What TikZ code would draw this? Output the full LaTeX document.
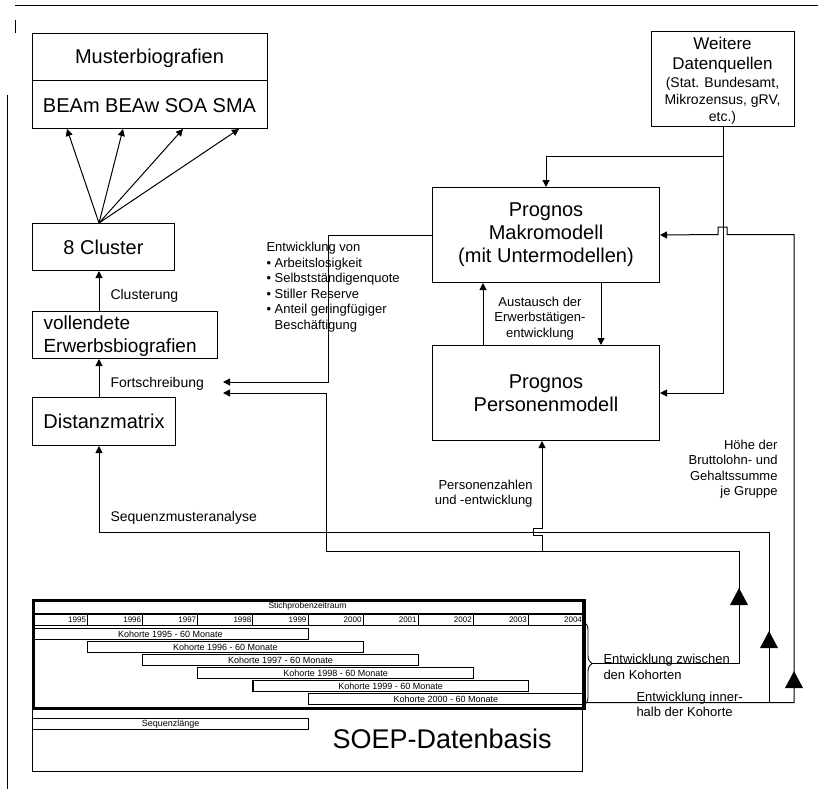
\documentclass[tikz,border=0pt]{standalone}
\usepackage{fontspec}
\setmainfont{Liberation Sans}
\usetikzlibrary{arrows.meta,decorations.pathreplacing,calc}
\newcommand\myfs[2]{\fontsize{#1}{#2}\selectfont}
\newcommand\bigtri[2]{\fill (#1-9,#2) -- (#1+9,#2) -- (#1,#2-17) -- cycle;}
\begin{document}
\begin{tikzpicture}[x=1pt,y=-1pt,line width=1pt,
  >={Triangle[length=7pt,width=7pt]},
  box/.style={draw,anchor=north west,inner sep=0pt},
  big/.style={font=\myfs{20}{23}},
  lbl/.style={font=\myfs{14}{16},inner sep=0pt},
  sm/.style={font=\myfs{13}{15.5},inner sep=0pt},
  ycell/.style={draw,line width=0.8pt,anchor=north west,inner xsep=1.5pt,inner ysep=0pt,text width=52.1pt,align=right,minimum height=11pt,font=\myfs{8}{9}},
  kbar/.style={draw,line width=1.1pt,anchor=north west,inner sep=0pt,minimum height=10.5pt,font=\myfs{9}{10}},
]
\useasboundingbox (0,0) rectangle (818,789);
% page frame
\draw (15,6) -- (818,6);
\draw (15,20) -- (15,33);
\draw (7,95) -- (7,789);

% left column
\node[box,minimum width=235pt,minimum height=95pt] (mb) at (32,33) {};
\draw (mb.west) -- (mb.east);
\node[big] (mbt) at (149.5,58) {Musterbiografien};
\node[big] (mbs) at (149.5,106) {BEAm BEAw SOA SMA};

\node[box,big,minimum width=142pt,minimum height=47pt] (cl) at (32,223) {8 Cluster};
\node[box,minimum width=185pt,minimum height=47pt] (ve) at (32,311) {};
\node[font=\myfs{19}{23},align=left,anchor=west,inner sep=0pt] (vet) at (43,336.5) {vollendete\\Erwerbsbiografien};
\node[box,big,minimum width=143pt,minimum height=48pt] (dm) at (32,397) {Distanzmatrix};

% right column
\node[box,minimum width=143pt,minimum height=95pt] (wd) at (651,31) {};
\node[align=center,inner sep=0pt,font=\myfs{14}{17}] (wdt) at (722.5,81) {{\myfs{17}{20}Weitere}\\[3pt]{\myfs{17}{20}Datenquellen}\\[1pt](Stat. Bundesamt,\\Mikrozensus, gRV,\\etc.)};
\node[box,big,minimum width=227pt,minimum height=95pt,align=center] (mk) at (432,187) {Prognos\\Makromodell\\(mit Untermodellen)};
\node[box,big,minimum width=227pt,minimum height=95pt,align=center] (pm) at (432,345) {Prognos\\Personenmodell};

% labels
\node[lbl,anchor=west] (lclu) at (110,296) {Clusterung};
\node[lbl,anchor=west] (lfort) at (110,384) {Fortschreibung};
\node[lbl,anchor=west] (lseq) at (110,518) {Sequenzmusteranalyse};
\node[sm,align=center] (laus) at (540,318.5) {Austausch der\\Erwerbstätigen-\\entwicklung};
\node[sm,align=left,anchor=west] (lentw) at (266,287) {Entwicklung von\\• Arbeitslosigkeit\\• Selbstständigenquote\\• Stiller Reserve\\• Anteil geringfügiger\\\phantom{• }Beschäftigung};
\node[sm,align=right,anchor=east] (lpers) at (533,493.5) {Personenzahlen\\und -entwicklung};
\node[sm,align=right,anchor=east] (lhoehe) at (778,469) {Höhe der\\Bruttolohn- und\\Gehaltssumme\\je Gruppe};
\node[sm,align=left,anchor=west] (lzw) at (603,667) {Entwicklung zwischen\\den Kohorten};
\node[sm,align=left,anchor=west] (lin) at (636,704.5) {Entwicklung inner-\\halb der Kohorte};

% SOEP block
\node[box,minimum width=550pt,minimum height=172pt] (soep) at (32,599) {};
\node[anchor=west,font=\myfs{27}{30},inner sep=0pt] (soept) at (332,739) {SOEP-Datenbasis};
\node[draw,line width=3pt,anchor=north west,minimum width=551pt,minimum height=108pt,inner sep=0pt] (sp) at (32,599) {};
\draw[line width=2pt] (sp.north west |- 0,614) -- (sp.north east |- 0,614);
\node[font=\myfs{8.5}{10}] (spt) at (307.5,606.5) {Stichprobenzeitraum};
\foreach \i/\yr in {0/1995,1/1996,2/1997,3/1998,4/1999,5/2000,6/2001,7/2002,8/2003,9/2004}{
  \node[ycell] (y\yr) at ({32+55.1*\i},614) {\yr};
}
\foreach \i/\yr in {0/1995,1/1996,2/1997,3/1998,4/1999,5/2000}{
  \node[kbar,minimum width=275.5pt] (k\yr) at ({32+55.1*\i},{628+13*\i}) {Kohorte \yr\ - 60 Monate};
}
\node[kbar,minimum width=276pt] (seq) at (32,718) {Sequenzlänge};

% brace
\draw[decorate,decoration={brace,amplitude=8pt},line width=0.9pt] (584,622) -- (584,705);
\coordinate (bt) at (592,663.5);
\coordinate (bb) at (585,702.5);

% connectors left
\coordinate (clt) at (99,223);
\foreach \dx in {35,91,151,207}{\draw[->] (clt) -- ($(mb.south west)+(\dx,0)$);}
\draw[->] (ve.north -| clt) -- (cl.south -| clt);
\draw[->] (dm.north -| clt) -- (ve.south -| clt);

% Weitere Datenquellen
\draw[->] (wd.south) -- (wd.south |- pm.east) -- (pm.east);
\draw[->] (wd.south |- 0,156) -| (mk.north);

% Makro <-> Personen
\draw[->] ($(pm.north west)+(51,0)$) -- ($(mk.south west)+(51,0)$);
\draw[->] ($(mk.south west)+(169,0)$) -- ($(pm.north west)+(169,0)$);

% Makro -> Fortschreibung
\coordinate (f1) at (223,382);
\coordinate (f2) at (223,393);
\draw[->] (mk.west) -| (328,382) -- (f1);

% Entwicklung zwischen den Kohorten
\draw[->] (bt) -- (739,663.5) -- (739,551) -- (326,551) -- (326,393) -- (f2);
\draw[->] (542,551) -- (542,535) -- (533,535) -- (533,528) -- (542,528) -- (pm.south -| 542,0);
\bigtri{739}{605}

% Entwicklung innerhalb der Kohorte
\draw[->] (bb) -- (794,702.5) -- (794,234.5) -- (727,234.5) -- (727,227) -- (718,227) -- (718,234.5) -- (mk.east);
\draw[->] (769,702.5) -- (769,532) -- (99,532) -- (dm.south -| clt);
\bigtri{769}{648}
\bigtri{794}{688}
\end{tikzpicture}
\end{document}
